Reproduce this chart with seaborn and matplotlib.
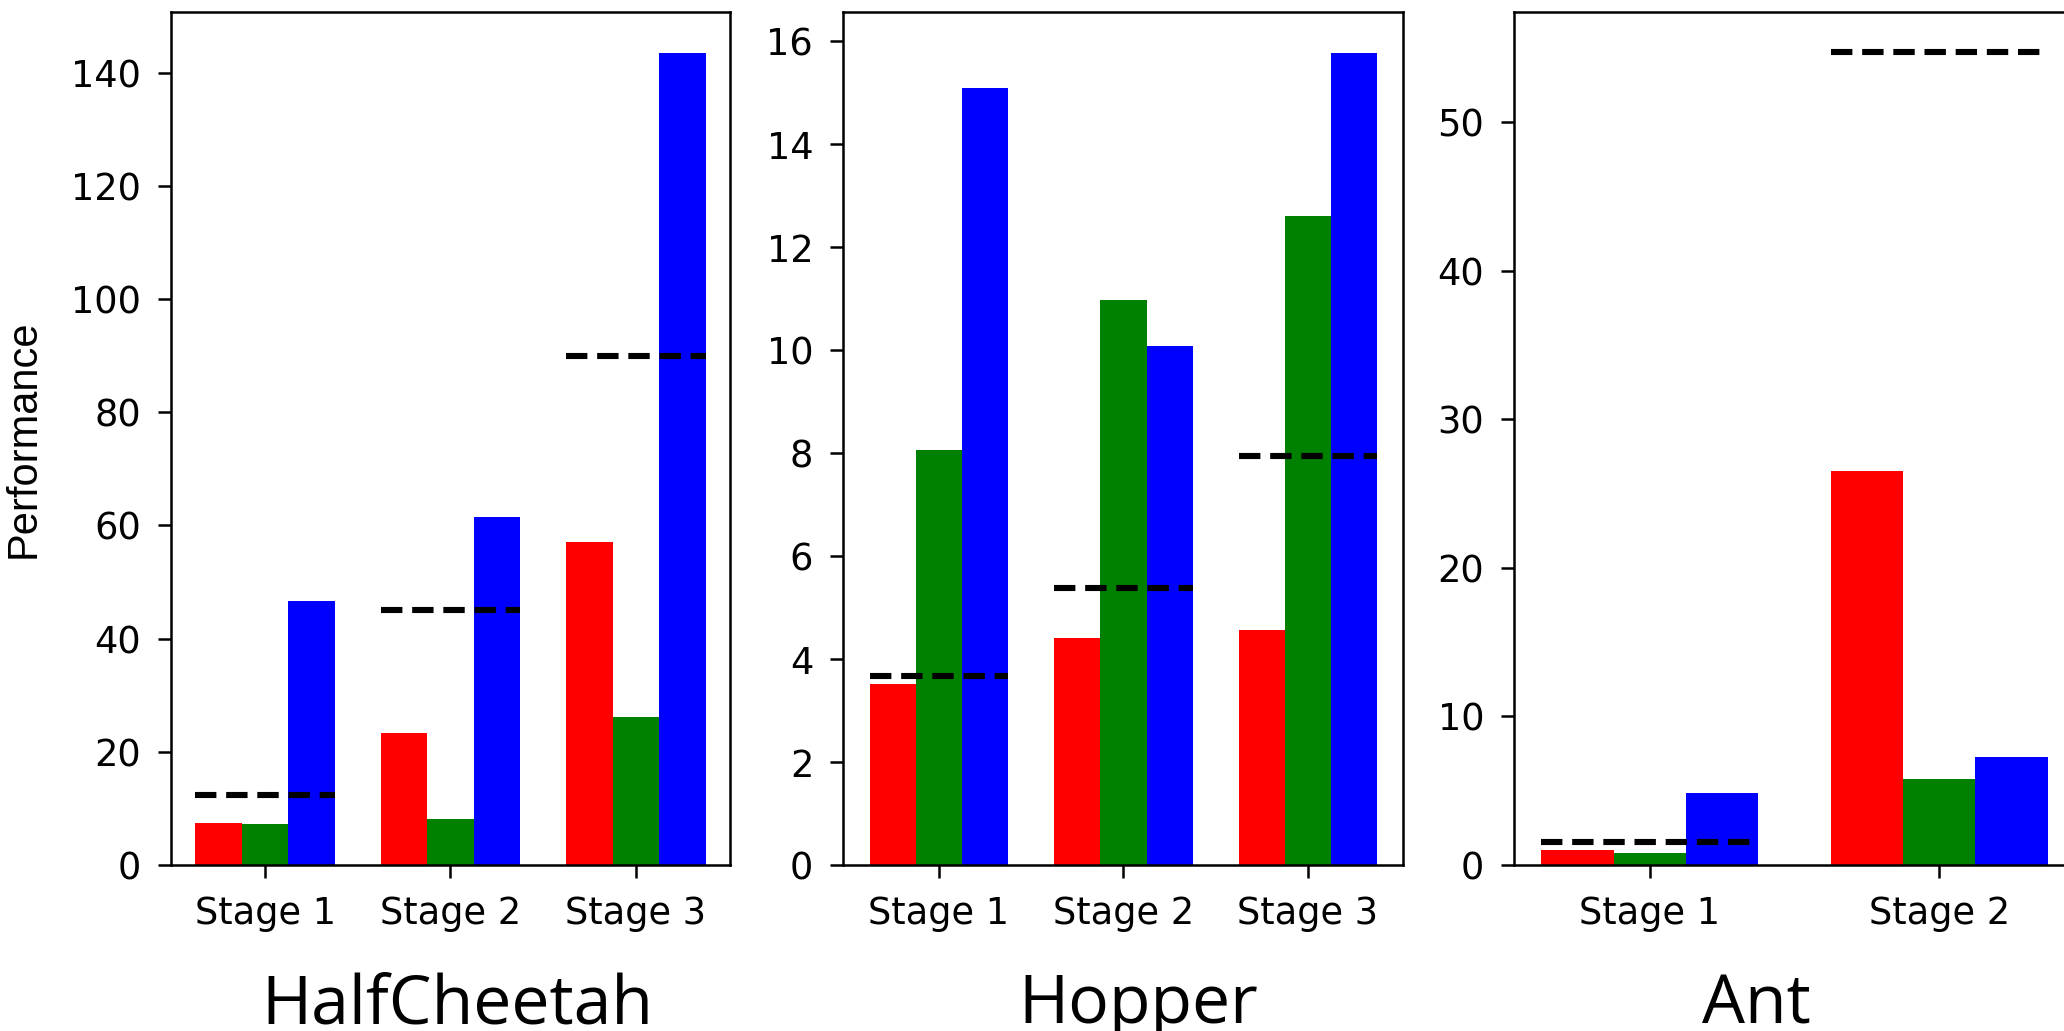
import numpy as np
import pandas as pd
import matplotlib
matplotlib.use("Agg")
import matplotlib.pyplot as plt
import seaborn as sns

# ---------------- data ----------------
methods = ["Method A", "Method B", "Method C"]
colors = ["#FF0000", "#008000", "#0000FF"]

hc_stages = ["Stage 1", "Stage 2", "Stage 3"]
hc_red = [7.5, 23.3, 57.0]
hc_green = [7.2, 8.2, 26.1]
hc_blue = [46.7, 61.5, 143.5]
hc_ref = [12.3, 45.0, 90.0]
hc_ticks = [0, 20, 40, 60, 80, 100, 120, 140]

hop_stages = ["Stage 1", "Stage 2", "Stage 3"]
hop_red = [3.51, 4.41, 4.56]
hop_green = [8.06, 10.98, 12.6]
hop_blue = [15.1, 10.09, 15.78]
hop_ref = [3.68, 5.39, 7.95]
hop_ticks = [0, 2, 4, 6, 8, 10, 12, 14, 16]

ant_stages = ["Stage 1", "Stage 2"]
ant_red = [1.0, 26.5]
ant_green = [0.83, 5.8]
ant_blue = [4.86, 7.25]
ant_ref = [1.54, 54.7]
ant_ticks = [0, 10, 20, 30, 40, 50]

titles = ["HalfCheetah", "Hopper", "Ant"]

# ---------------- style ----------------
sns.set_theme(style="ticks")
plt.rcParams["font.family"] = ["DejaVu Sans"]
plt.rcParams["text.color"] = "black"
plt.rcParams["axes.labelcolor"] = "black"
plt.rcParams["axes.linewidth"] = 1.8
plt.rcParams["xtick.major.width"] = 1.8
plt.rcParams["ytick.major.width"] = 1.8
plt.rcParams["xtick.major.size"] = 9.5
plt.rcParams["ytick.major.size"] = 9.5
plt.rcParams["xtick.major.pad"] = 12
plt.rcParams["ytick.major.pad"] = 12
plt.rcParams["axes.edgecolor"] = "black"
plt.rcParams["xtick.color"] = "black"
plt.rcParams["ytick.color"] = "black"
plt.rcParams["xtick.labelcolor"] = "black"
plt.rcParams["ytick.labelcolor"] = "black"

W, H = 2064, 1031
fig = plt.figure(figsize=(W / 100, H / 100), dpi=100)

def frac_axes(x0, x1, y0, y1):
    return fig.add_axes([x0 / W, 1 - y1 / H, (x1 - x0) / W, (y1 - y0) / H])

panels = [
    dict(stages=hc_stages, red=hc_red, green=hc_green, blue=hc_blue, ref=hc_ref,
         ticks=hc_ticks, ylim=150.7, box=(171, 730), xlim=(-0.507, 2.507), title_x=457),
    dict(stages=hop_stages, red=hop_red, green=hop_green, blue=hop_blue, ref=hop_ref,
         ticks=hop_ticks, ylim=16.57, box=(843, 1403), xlim=(-0.52, 2.515), title_x=1138),
    dict(stages=ant_stages, red=ant_red, green=ant_green, blue=ant_blue, ref=ant_ref,
         ticks=ant_ticks, ylim=57.4, box=(1514, 2075), xlim=(-0.47, 1.47), title_x=1756),
]

group_width = 0.75

for i, p in enumerate(panels):
    ax = frac_axes(p["box"][0], p["box"][1], 12, 865)
    n = len(p["stages"])
    df = pd.DataFrame({
        "stage": p["stages"] * 3,
        "method": [methods[0]] * n + [methods[1]] * n + [methods[2]] * n,
        "value": list(p["red"]) + list(p["green"]) + list(p["blue"]),
    })
    sns.barplot(data=df, x="stage", y="value", hue="method", hue_order=methods,
                palette=colors, saturation=1, width=group_width, gap=0,
                linewidth=0, edgecolor="none", legend=False, ax=ax, errorbar=None)
    pos = np.arange(n)
    ax.hlines(p["ref"], pos - group_width / 2, pos + group_width / 2,
              colors="black", linewidth=4.4, linestyles=(0, (3.5, 1.6)), zorder=5)
    ax.set_xlim(*p["xlim"])
    ax.set_ylim(0, p["ylim"])
    ax.set_yticks(p["ticks"])
    ax.set_xlabel("")
    ax.set_ylabel("")
    for s in ax.spines.values():
        s.set_visible(True)
        s.set_color("black")
        s.set_linewidth(1.8)
    ax.tick_params(axis="both", labelsize=26.5, direction="out",
                   colors="black", labelcolor="black")
    ax.grid(False)
    fig.text(p["title_x"] / W, 1 - 1023 / H, titles[i], ha="center", va="baseline",
             fontsize=49, color="black", family=["Open Sans", "DejaVu Sans"])
    if i == 0:
        ax.set_ylabel("Performance", fontsize=30, color="black",
                      family=["Liberation Sans", "DejaVu Sans"], labelpad=20)

fig.savefig("out.png", dpi=100)
